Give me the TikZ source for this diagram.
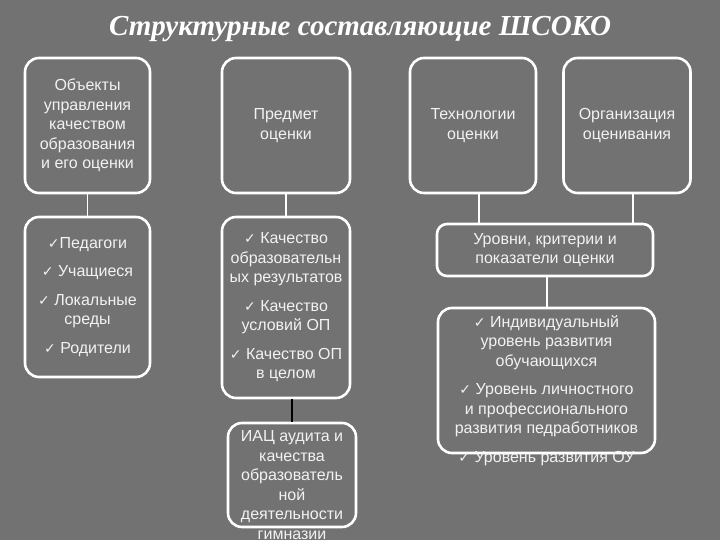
\documentclass[tikz,border=0pt]{standalone}
\usepackage{fontspec}
\setmainfont{Liberation Sans}
\newfontfamily\titlefont{Liberation Serif}
\newfontfamily\symfont{DejaVu Sans}
\usetikzlibrary{calc}
\definecolor{slate}{HTML}{727272}
\definecolor{chalk}{HTML}{F2F2F2}
\newcommand{\chk}{{\symfont\fontsize{14}{14}\selectfont ✓}}

\begin{document}
\begin{tikzpicture}[
  x=1pt, y=-1pt,
  font=\fontsize{16}{19.5}\selectfont,
  box/.style={draw=white, line width=2.6pt, rounded corners=14pt, fill=slate, text=chalk, align=center, inner sep=0pt},
  txt/.style={text=chalk, align=center, inner sep=0pt},
  link/.style={draw=white, line width=1.2pt},
  blk/.style={draw=black, line width=1.2pt}
]
\fill[slate] (0,0) rectangle (720,540);
\useasboundingbox (0,0) rectangle (720,540);

\node[txt, text=white, font=\titlefont\bfseries\itshape\fontsize{29}{29}\selectfont] (title) at (360,29)
  {Структурные составляющие ШСОКО};

% top row
\node[box, minimum width=125, minimum height=135] (obj) at (87.5,125.5)
  {Объекты\\управления\\качеством\\образования\\и его оценки};
\node[box, minimum width=128, minimum height=135] (subj) at (286,125.5)
  {Предмет\\оценки};
\node[box, minimum width=126, minimum height=135] (tech) at (473,125.5)
  {Технологии\\оценки};
\node[box, minimum width=127, minimum height=135] (org) at (627,125.5)
  {Организация\\оценивания};

% second row
\node[box, minimum width=125, minimum height=160] (staff) at (87.5,297)
  {\chk Педагоги\\[9pt]\chk\ Учащиеся\\[9pt]\chk\ Локальные\\среды\\[9pt]\chk\ Родители};
\node[box, minimum width=128, minimum height=181] (quality) at (286,307.5)
  {\chk\ Качество\\образовательн\\ых результатов\\[9pt]\chk\ Качество\\условий ОП\\[9pt]\chk\ Качество ОП\\в целом};
\node[box, rounded corners=10pt, minimum width=216, minimum height=52] (crit) at (545,250)
  {Уровни, критерии и\\показатели оценки};

% lower boxes, text runs over their borders
\node[box, minimum width=217, minimum height=145] (levels) at (546.5,380.5) {};
\node[txt] (levtext) at (546.5,390.5)
  {\chk\ Индивидуальный\\уровень развития\\обучающихся\\[9pt]\chk\ Уровень личностного\\и профессионального\\развития педработников\\[9pt]\chk\ Уровень развития ОУ};
\node[box, minimum width=128, minimum height=104] (iac) at (292,475) {};
\node[txt] (iactext) at (292,485)
  {ИАЦ аудита и\\качества\\образователь\\ной\\деятельности\\гимназии};

% connectors
\draw[link] (obj.south) -- (staff.north);
\draw[link] (subj.south) -- (quality.south |- quality.north);
\draw[link] ([xshift=6pt]tech.south) -- ([xshift=6pt]tech.south |- crit.north);
\draw[link] ([xshift=6pt]org.south) -- ([xshift=6pt]org.south |- crit.north);
\draw[link] ([xshift=2pt]crit.south) -- ([xshift=2pt]crit.south |- levels.north);
\draw[blk] (iac.north |- quality.south) -- (iac.north);
\end{tikzpicture}
\end{document}
